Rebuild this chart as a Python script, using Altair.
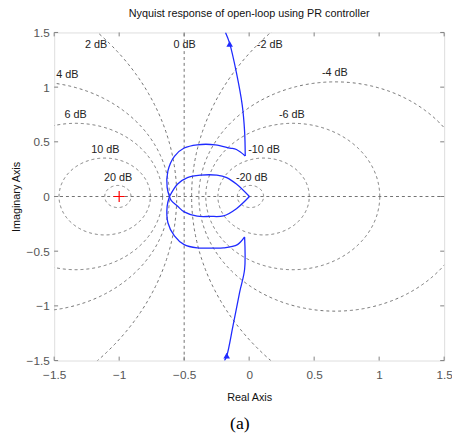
import numpy as np
import pandas as pd
import altair as alt

# ---------------- data ----------------
# Nyquist curve, in drawing order, split into smooth segments
curve_x = [-0.182, -0.150, -0.098, -0.053, -0.035, -0.030,
           -0.030, -0.098, -0.148, -0.261, -0.400, -0.500, -0.575, -0.625, -0.631, -0.613,
           -0.613, -0.600, -0.550, -0.500, -0.400, -0.300, -0.198, -0.098, 0.002,
           0.002, -0.098, -0.173, -0.249, -0.375, -0.475, -0.550, -0.613,
           -0.613, -0.631, -0.625, -0.575, -0.500, -0.400, -0.300, -0.198, -0.090, -0.035,
           -0.035, -0.035, -0.073, -0.123, -0.173, -0.190]
curve_y = [1.500, 1.400, 1.132, 0.833, 0.593, 0.370,
           0.370, 0.430, 0.443, 0.473, 0.473, 0.443, 0.368, 0.234, 0.084, 0.000,
           0.000, -0.036, -0.090, -0.141, -0.180, -0.182, -0.177, -0.111, 0.000,
           0.000, 0.114, 0.173, 0.195, 0.195, 0.173, 0.114, 0.000,
           0.000, -0.090, -0.240, -0.360, -0.440, -0.470, -0.472, -0.470, -0.440, -0.370,
           -0.370, -0.665, -0.874, -1.174, -1.460, -1.500]
curve_seg = [0] * 6 + [1] * 10 + [2] * 9 + [3] * 8 + [4] * 10 + [5] * 6

# direction arrows
arrow_x = [-0.150, -0.173]
arrow_y = [1.395, -1.455]

# M-circle levels (dB) and their label positions
mdb_levels = [20, 10, 6, 4, 2, -2, -4, -6, -10, -20]
lab_text = ["2 dB", "0 dB", "-2 dB", "4 dB", "-4 dB", "6 dB", "-6 dB",
            "10 dB", "-10 dB", "20 dB", "-20 dB"]
lab_x = [-1.178, -0.497, 0.158, -1.398, 0.659, -1.335, 0.329,
         -1.106, 0.115, -1.008, 0.021]
lab_y = [1.386, 1.386, 1.386, 1.108, 1.132, 0.743, 0.743,
         0.422, 0.422, 0.173, 0.173]

ticks = [-1.5, -1.0, -0.5, 0.0, 0.5, 1.0, 1.5]

title_text = "Nyquist response of open-loop using PR controller"
caption = "(a)"

# ---------------- tables ----------------
curve = pd.DataFrame({"x": curve_x, "y": curve_y, "s": curve_seg, "o": range(len(curve_x))})
arrows = pd.DataFrame({"x": arrow_x, "y": arrow_y})
labels = pd.DataFrame({"x": lab_x, "y": lab_y, "t": lab_text})

rows = []
th = np.linspace(0, 2 * np.pi, 721)
for db in mdb_levels:
    m = 10 ** (db / 20)
    c = -m * m / (m * m - 1)
    r = abs(m / (m * m - 1))
    for i, a in enumerate(th):
        rows.append({"x": c + r * np.cos(a), "y": r * np.sin(a), "o": i, "g": str(db)})
# 0 dB line and real axis
rows += [{"x": -0.5, "y": -1.5, "o": 0, "g": "0"}, {"x": -0.5, "y": 1.5, "o": 1, "g": "0"}]
rows += [{"x": -1.5, "y": 0.0, "o": 0, "g": "ax"}, {"x": 1.5, "y": 0.0, "o": 1, "g": "ax"}]
grid = pd.DataFrame(rows)
tickdf = pd.DataFrame({"v": ticks})

W, H = 397, 334
FONT = "Liberation Sans"
GREY = "#808080"
DASH = "#707070"
BLUE = "#1f2bff"

xs = alt.Scale(domain=[-1.5, 1.5], nice=False, zero=False)
ys = alt.Scale(domain=[-1.5, 1.5], nice=False, zero=False)

xaxis = alt.Axis(values=ticks, title="Real Axis", grid=False, domain=False, tickSize=0,
                 labelPadding=9, labelFontSize=12, labelColor="#555555", labelFont=FONT,
                 titleFont=FONT, titleFontSize=11, titleFontWeight="normal", titleColor="#111111",
                 titlePadding=12, format="~g", labelFlush=False)
yaxis = alt.Axis(values=ticks, title="Imaginary Axis", grid=False, domain=False, tickSize=0,
                 labelPadding=5, labelFontSize=12, labelColor="#555555", labelFont=FONT,
                 titleFont=FONT, titleFontSize=11, titleFontWeight="normal", titleColor="#111111",
                 titlePadding=5, format="~g", labelFlush=False)

base = alt.Chart(grid)

grid_l = base.mark_line(clip=True, stroke=DASH, strokeWidth=1, strokeDash=[3, 3]).encode(
    x=alt.X("x:Q", scale=xs, axis=xaxis),
    y=alt.Y("y:Q", scale=ys, axis=yaxis),
    detail="g:N",
    order="o:Q",
)

curve_l = alt.Chart(curve).mark_line(clip=True, color=BLUE, strokeWidth=1.3,
                                     interpolate="catmull-rom").encode(
    x=alt.X("x:Q", scale=xs), y=alt.Y("y:Q", scale=ys), detail="s:N", order="o:Q")

arrow_p = alt.Chart(arrows).mark_point(shape="triangle-up", filled=True, color=BLUE,
                                        size=45, opacity=1).encode(
    x=alt.X("x:Q", scale=xs), y=alt.Y("y:Q", scale=ys))

plus = alt.Chart(pd.DataFrame({"x": [-1.0], "y": [0.0]})).mark_point(
    shape="M-1,0L1,0M0,-1L0,1", size=130, stroke="#ff0000", strokeWidth=1.2, opacity=1).encode(
    x=alt.X("x:Q", scale=xs), y=alt.Y("y:Q", scale=ys))

lab = alt.Chart(labels).mark_text(font=FONT, fontSize=11, color="#222222").encode(
    x=alt.X("x:Q", scale=xs), y=alt.Y("y:Q", scale=ys), text="t:N")

tk = alt.Chart(tickdf)
tick_b = tk.mark_rule(color=GREY).encode(x=alt.X("v:Q", scale=xs), y=alt.value(H), y2=alt.value(H - 4))
tick_t = tk.mark_rule(color=GREY).encode(x=alt.X("v:Q", scale=xs), y=alt.value(0), y2=alt.value(4))
tick_l = tk.mark_rule(color=GREY).encode(y=alt.Y("v:Q", scale=ys), x=alt.value(0), x2=alt.value(4))
tick_r = tk.mark_rule(color=GREY).encode(y=alt.Y("v:Q", scale=ys), x=alt.value(W), x2=alt.value(W - 4))

cap = alt.Chart(pd.DataFrame({"t": [caption]})).mark_text(
    font="Liberation Serif", fontSize=18, color="#000000", baseline="middle").encode(
    x=alt.value(189), y=alt.value(399), text="t:N")

chart = alt.layer(grid_l, tick_b, tick_t, tick_l, tick_r, curve_l, arrow_p, plus, lab, cap).properties(
    width=W, height=H,
    title=alt.TitleParams(title_text, font=FONT, fontSize=11, fontWeight="normal",
                          color="#111111", anchor="middle", offset=8),
    autosize=alt.AutoSizeParams(type="none"),
    padding={"left": 47, "top": 21, "right": 8, "bottom": 78},
).configure_view(stroke=GREY, strokeWidth=1).configure(background="white")

chart.save("out.html", embed_options={"renderer": "svg", "actions": False})
